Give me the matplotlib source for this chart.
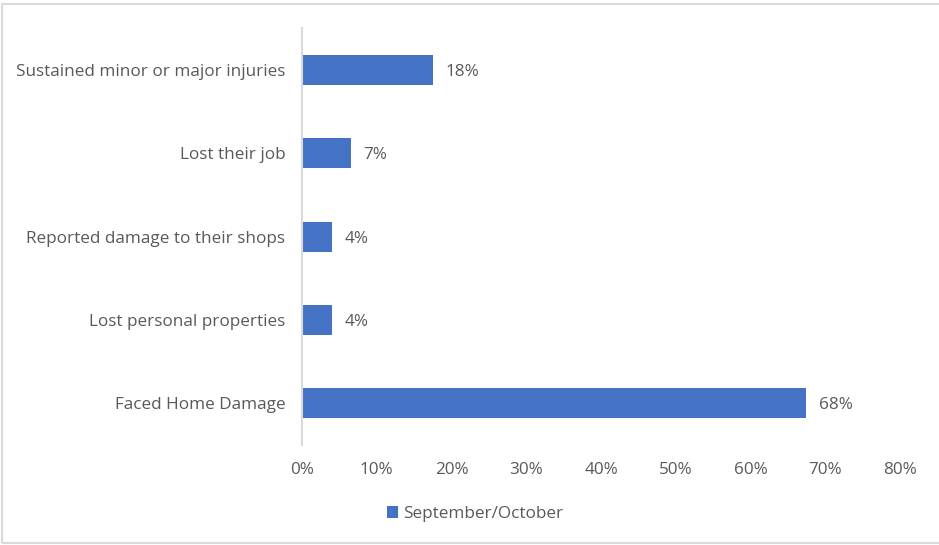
import matplotlib.pyplot as plt
from matplotlib.patches import Rectangle
from matplotlib.ticker import FuncFormatter

categories = [
    "Sustained minor or major injuries",
    "Lost their job",
    "Reported damage to their shops",
    "Lost personal properties",
    "Faced Home Damage",
]
values = [17.5, 6.5, 4.0, 4.0, 67.4]
value_labels = ["18%", "7%", "4%", "4%", "68%"]
series_name = "September/October"
xticks = [0, 10, 20, 30, 40, 50, 60, 70, 80]

BLUE = "#4472C4"
TEXT = "#595959"
FS = 12.3

plt.rcParams["font.family"] = ["Open Sans", "DejaVu Sans"]

fig = plt.figure(figsize=(9.39, 5.45), dpi=100)
fig.patch.set_facecolor("white")
ax = fig.add_axes([0.3216, 0.1835, 0.637, 0.765])

ypos = list(range(len(categories)))
bars = ax.barh(ypos, values, height=0.36, color=BLUE, label=series_name)
ax.set_ylim(len(categories) - 0.5, -0.5)
ax.set_xlim(0, 80)
ax.set_yticks(ypos)
ax.set_yticklabels(categories, fontsize=FS, color=TEXT)
ax.set_xticks(xticks)
ax.xaxis.set_major_formatter(FuncFormatter(lambda v, _: f"{v:.0f}%"))
ax.tick_params(axis="x", labelsize=FS, labelcolor=TEXT, length=0, pad=12)
ax.tick_params(axis="y", length=0, pad=12)

for s in ["top", "right", "bottom"]:
    ax.spines[s].set_visible(False)
ax.spines["left"].set_color("#d9d9d9")
ax.spines["left"].set_linewidth(1.5)

for b, lab in zip(bars, value_labels):
    ax.text(b.get_width() + 1.7, b.get_y() + b.get_height() / 2, lab,
            va="center_baseline", ha="left", fontsize=FS, color=TEXT)

fig.legend(handles=[bars], labels=[series_name], loc="center",
           bbox_to_anchor=(0.506, 0.057), frameon=False, fontsize=FS,
           labelcolor=TEXT, handlelength=0.65, handleheight=0.65,
           handletextpad=0.3)

# outer chart border
fig.patches.append(Rectangle((2 / 939, 2 / 545), 1.2, 539 / 545,
                             transform=fig.transFigure, fill=False,
                             edgecolor="#d9d9d9", linewidth=1.5))

fig.savefig("out.png", dpi=100)
